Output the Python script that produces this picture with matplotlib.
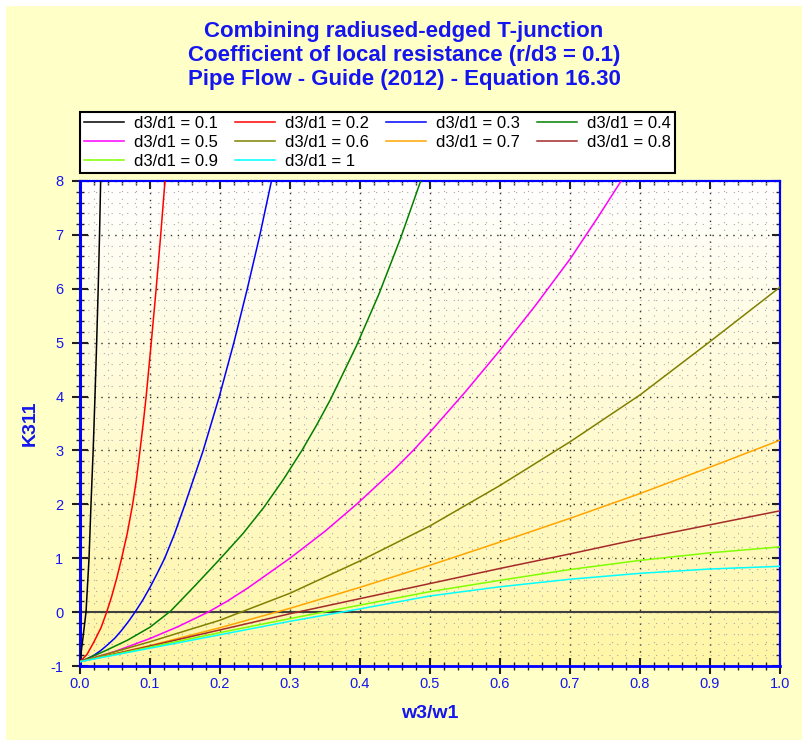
import numpy as np
import matplotlib
matplotlib.use('Agg')
import matplotlib.pyplot as plt
import matplotlib.ticker as ticker
from matplotlib.colors import LinearSegmentedColormap
from matplotlib.patches import Rectangle

plt.rcParams['font.family'] = ['Liberation Sans', 'DejaVu Sans']
plt.rcParams['axes.unicode_minus'] = False

# values: K311 against w3/w1 for each d3/d1
x_01 = [0, 0.004, 0.0086, 0.0129, 0.0157, 0.0188, 0.0214, 0.0238, 0.026, 0.0279, 0.0295, 0.031]
k_01 = [-0.92, -0.5, 0.0, 1.0, 2.0, 3.0, 4.0, 5.0, 6.0, 7.0, 8.0, 9.0]

x_02 = [0, 0.010, 0.020, 0.030, 0.0381, 0.045, 0.0525, 0.0595, 0.0675, 0.0752, 0.0805,
        0.0857, 0.0903, 0.0945, 0.1018, 0.1088, 0.1153, 0.1214, 0.126]
k_02 = [-0.92, -0.785, -0.55, -0.29, 0.0, 0.28, 0.63, 1.0, 1.46, 2.0, 2.45,
        3.0, 3.5, 4.0, 5.0, 6.0, 7.0, 8.0, 8.8]

x_03 = [0, 0.01, 0.02, 0.03, 0.04, 0.05, 0.06, 0.07, 0.0786, 0.09, 0.10, 0.11, 0.121,
        0.135, 0.150, 0.176, 0.199, 0.2198, 0.239, 0.257, 0.2735, 0.281]
k_03 = [-0.92, -0.87, -0.80, -0.71, -0.60, -0.48, -0.33, -0.16, 0.0, 0.23, 0.46, 0.71, 1.0,
        1.45, 2.0, 3.0, 4.0, 5.0, 6.0, 7.0, 8.0, 8.5]

x_04 = [0, 0.034, 0.068, 0.100, 0.1295, 0.165, 0.201, 0.233, 0.263, 0.291, 0.317, 0.338,
        0.358, 0.3945, 0.427, 0.458, 0.4867, 0.50]
k_04 = [-0.92, -0.73, -0.52, -0.28, 0.02, 0.5, 1.0, 1.46, 1.95, 2.47, 3.0, 3.47,
        3.95, 4.93, 5.90, 6.94, 8.0, 8.53]

x_05 = [0, 0.05, 0.1, 0.14, 0.183, 0.21, 0.24, 0.30, 0.35, 0.395, 0.45, 0.476, 0.50,
        0.55, 0.60, 0.65, 0.70, 0.74, 0.773, 0.79]
k_05 = [-0.92, -0.73, -0.49, -0.27, 0.0, 0.2, 0.45, 1.0, 1.5, 2.0, 2.66, 3.0, 3.34,
        4.08, 4.86, 5.68, 6.55, 7.33, 8.0, 8.4]

x_tenths = [0, 0.1, 0.2, 0.3, 0.4, 0.5, 0.6, 0.7, 0.8, 0.9, 1.0]
k_06 = [-0.92, -0.55, -0.15, 0.35, 0.95, 1.60, 2.35, 3.16, 4.03, 5.02, 6.03]
k_07 = [-0.92, -0.62, -0.29, 0.07, 0.46, 0.87, 1.30, 1.74, 2.20, 2.69, 3.19]
k_08 = [-0.92, -0.63, -0.33, -0.03, 0.25, 0.53, 0.81, 1.08, 1.36, 1.62, 1.88]
k_09 = [-0.92, -0.65, -0.38, -0.12, 0.13, 0.38, 0.59, 0.79, 0.96, 1.10, 1.21]
k_10 = [-0.92, -0.67, -0.42, -0.17, 0.06, 0.30, 0.47, 0.61, 0.72, 0.80, 0.85]

labels = ['d3/d1 = 0.1', 'd3/d1 = 0.2', 'd3/d1 = 0.3', 'd3/d1 = 0.4', 'd3/d1 = 0.5',
          'd3/d1 = 0.6', 'd3/d1 = 0.7', 'd3/d1 = 0.8', 'd3/d1 = 0.9', 'd3/d1 = 1']
xs = [x_01, x_02, x_03, x_04, x_05, x_tenths, x_tenths, x_tenths, x_tenths, x_tenths]
ks = [k_01, k_02, k_03, k_04, k_05, k_06, k_07, k_08, k_09, k_10]
colors = ['black', '#FF0000', '#0000FF', '#008000', '#FF00FF',
          '#808000', '#FFA500', '#A52A2A', '#7FFF00', '#00FFFF']

blue = '#1515F0'

fig = plt.figure(figsize=(8.03, 7.40), dpi=100)
fig.patch.set_facecolor('white')
fig.patches.append(Rectangle((6 / 803, 0), 1, 1 - 6 / 740, transform=fig.transFigure,
                             facecolor='#FFFFC8', edgecolor='none', zorder=-10))

ax = fig.add_axes([80 / 803, 1 - 666 / 740, 700 / 803, 485 / 740])
ax.set_facecolor('none')

# white-to-yellow shading of the plot area
shade = LinearSegmentedColormap.from_list('shade', ['#FFFFFF', '#FFF6A6'])
ax.imshow(np.linspace(0, 1, 256).reshape(-1, 1), cmap=shade, extent=[0, 1, -1, 8],
          aspect='auto', zorder=0)

handles = []
for x, k, c, lab in zip(xs, ks, colors, labels):
    h, = ax.plot(x, k, color=c, lw=1.1, label=lab, zorder=3)
    handles.append(h)

ax.axhline(0, color='#404040', lw=1.5, zorder=2)

ax.set_xlim(0, 1)
ax.set_ylim(-1, 8)
ax.xaxis.set_major_locator(ticker.MultipleLocator(0.1))
ax.xaxis.set_minor_locator(ticker.MultipleLocator(0.02))
ax.yaxis.set_major_locator(ticker.MultipleLocator(1))
ax.yaxis.set_minor_locator(ticker.MultipleLocator(0.2))
ax.xaxis.set_major_formatter(ticker.FormatStrFormatter('%.1f'))

ax.grid(which='major', color='#303030', linestyle=(0, (1, 4)), lw=1.0, zorder=1)
ax.grid(which='minor', color='#A8A8A8', linestyle=(0, (1, 6)), lw=0.8, zorder=1)

ax.tick_params(which='major', direction='inout', length=12, width=1.5, color='#202020',
               labelcolor=blue, labelsize=10.5)
ax.tick_params(axis='x', which='major', pad=2)
ax.tick_params(axis='y', which='major', pad=6)
ax.tick_params(which='minor', direction='inout', length=6, width=1.0, color='#202020')

top = ax.secondary_xaxis('top')
top.xaxis.set_major_locator(ticker.MultipleLocator(0.1))
top.xaxis.set_minor_locator(ticker.MultipleLocator(0.02))
top.tick_params(which='major', direction='in', length=6, width=1.5, color='#202020', labeltop=False)
top.tick_params(which='minor', direction='in', length=3, width=1.0, color='#202020')
right = ax.secondary_yaxis('right')
right.yaxis.set_major_locator(ticker.MultipleLocator(1))
right.yaxis.set_minor_locator(ticker.MultipleLocator(0.2))
right.tick_params(which='major', direction='in', length=6, width=1.5, color='#202020', labelright=False)
right.tick_params(which='minor', direction='in', length=3, width=1.0, color='#202020')

for a in (ax, top, right):
    for s in a.spines.values():
        s.set_color('#0000FF')
        s.set_linewidth(1.5)
ax.spines['left'].set_linewidth(2.2)
ax.spines['bottom'].set_linewidth(2.0)

title_lines = ['Combining radiused-edged T-junction',
               'Coefficient of local resistance (r/d3 = 0.1)',
               'Pipe Flow - Guide (2012) - Equation 16.30']
for i, line in enumerate(title_lines):
    fig.text(404 / 803, 1 - (32 + 23.5 * i) / 740, line, ha='center', va='center',
             fontsize=16, fontweight='bold', color=blue)

fig.text(430 / 803, 1 - 714 / 740, 'w3/w1', ha='center', va='center',
         fontsize=14, fontweight='bold', color=blue)
fig.text(30 / 803, 1 - 423 / 740, 'K311', ha='center', va='center', rotation=90,
         fontsize=14, fontweight='bold', color=blue)

# legend fills row by row in the reference, matplotlib fills column by column
order = [0, 4, 8, 1, 5, 9, 2, 6, 3, 7]
leg = fig.legend([handles[i] for i in order], [labels[i] for i in order],
                 loc='upper left', bbox_to_anchor=(80 / 803, 1 - 112 / 740),
                 ncol=4, fontsize=12, frameon=True, fancybox=False, framealpha=1,
                 edgecolor='black', handlelength=2.4, handletextpad=0.6,
                 columnspacing=1.02, labelspacing=0.22, borderpad=0.25, borderaxespad=0)
leg.get_frame().set_linewidth(1.5)

fig.savefig('out.png', dpi=100)
